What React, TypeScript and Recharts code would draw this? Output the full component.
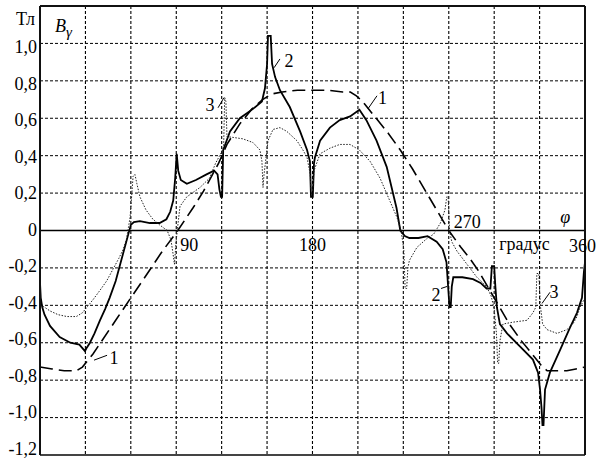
import React from "react";
import {
  LineChart,
  Line,
  XAxis,
  YAxis,
  CartesianGrid,
  ReferenceLine,
  ReferenceDot,
} from "recharts";

const xTicks = [0, 30, 60, 90, 120, 150, 180, 210, 240, 270, 300, 330, 360];
const yTicks = [-1.2, -1.0, -0.8, -0.6, -0.4, -0.2, 0, 0.2, 0.4, 0.6, 0.8, 1.0];

// curve 1 (dashed)
const curve1Deg = [0, 8, 16, 24, 28, 31, 35, 40, 50, 60, 72.6, 80, 91, 101, 108, 114, 118, 123.5, 132, 140, 147, 153, 160, 170, 180, 190, 200, 205, 209, 213, 218, 223, 230, 238, 246, 254, 262, 270, 278, 284, 290, 300, 310, 318, 325, 331, 335, 341, 348, 354, 360];
const curve1Val = [-0.73, -0.74, -0.75, -0.75, -0.73, -0.7, -0.66, -0.6, -0.48, -0.36, -0.21, -0.12, 0.0, 0.12, 0.21, 0.3, 0.36, 0.46, 0.57, 0.65, 0.7, 0.73, 0.74, 0.75, 0.75, 0.75, 0.74, 0.74, 0.72, 0.69, 0.64, 0.59, 0.52, 0.43, 0.33, 0.22, 0.11, 0.0, -0.09, -0.15, -0.22, -0.36, -0.5, -0.59, -0.66, -0.72, -0.75, -0.75, -0.75, -0.74, -0.73];

// curve 2 (solid)
const curve2Deg = [0, 0.5, 1.5, 3, 6.6, 13, 20, 26, 29.7, 31, 33, 36, 39.6, 43, 46, 50, 54, 58, 60, 62, 66, 72.6, 79, 83.5, 86, 88, 89.3, 90.3, 91.3, 93, 97, 103, 110, 115, 117.3, 118.5, 119.5, 120.3, 121, 125.5, 132, 140.7, 146.6, 148.6, 150, 150.6, 152.4, 153.3, 155.3, 158.5, 165, 171.8, 176.4, 178.3, 179, 180.2, 181, 181.6, 185, 191.5, 198, 204.8, 211, 215.6, 222.3, 229, 235.5, 238, 241, 244, 250, 256, 262, 266, 268.5, 270.5, 271.3, 272, 273, 279, 286, 291, 295, 297.5, 298.5, 300, 300.8, 301.8, 303.8, 308.5, 317, 325.6, 329, 330.3, 331.3, 331.9, 332.6, 333.6, 336.8, 343.5, 350, 354.7, 358, 359.3, 360];
const curve2Val = [-0.28, -0.36, -0.41, -0.45, -0.51, -0.57, -0.6, -0.61, -0.645, -0.625, -0.6, -0.55, -0.48, -0.42, -0.36, -0.27, -0.15, -0.03, 0.03, 0.045, 0.05, 0.04, 0.04, 0.06, 0.1, 0.16, 0.28, 0.41, 0.32, 0.27, 0.25, 0.27, 0.3, 0.32, 0.3, 0.22, 0.18, 0.18, 0.43, 0.53, 0.6, 0.65, 0.69, 0.76, 0.89, 1.04, 1.04, 0.89, 0.82, 0.75, 0.66, 0.53, 0.43, 0.37, 0.18, 0.18, 0.36, 0.39, 0.48, 0.55, 0.59, 0.61, 0.645, 0.59, 0.48, 0.34, 0.12, 0.0, -0.03, -0.04, -0.04, -0.03, -0.06, -0.1, -0.17, -0.41, -0.41, -0.3, -0.25, -0.25, -0.26, -0.28, -0.31, -0.31, -0.19, -0.19, -0.3, -0.41, -0.5, -0.55, -0.62, -0.69, -0.76, -0.85, -0.95, -1.04, -1.04, -0.85, -0.76, -0.64, -0.52, -0.44, -0.36, -0.22, -0.17];

// curve 3 (thin dotted)
const curve3Deg = [0, 3, 6.6, 12, 17.8, 24, 28, 31, 35, 39.6, 44, 48, 52, 55, 57, 58.5, 59.5, 60.5, 61.5, 62.7, 64, 66, 70, 74.6, 79, 84, 86.5, 87.8, 88.8, 90, 91.5, 92.5, 97, 105.7, 112, 116, 120, 121.3, 122, 122.8, 123.5, 125.5, 134, 140.7, 145.3, 146.6, 147.3, 148, 150.6, 153.9, 158.5, 163, 169.7, 173.7, 176.4, 178.5, 179, 180.2, 181, 185, 191.5, 198, 204.8, 211, 218, 224.6, 231, 235.8, 238.5, 240.3, 241.2, 242.2, 243, 244, 249, 256, 260, 264.5, 267.5, 268.7, 269.6, 270.5, 272, 275.4, 282, 288.6, 295, 298, 300, 301.5, 302.3, 303, 303.8, 305.8, 312.4, 321.7, 325.6, 327.5, 328.2, 329.5, 330.5, 332, 335, 341.5, 348, 352, 354.7, 356.7, 360];
const curve3Val = [-0.4, -0.41, -0.43, -0.45, -0.46, -0.46, -0.44, -0.41, -0.37, -0.32, -0.27, -0.21, -0.15, -0.1, -0.05, 0.02, 0.07, 0.18, 0.29, 0.3, 0.25, 0.18, 0.11, 0.06, 0.03, 0.0, -0.05, -0.12, -0.18, -0.05, 0.06, 0.13, 0.18, 0.23, 0.28, 0.36, 0.42, 0.45, 0.71, 0.69, 0.5, 0.5, 0.49, 0.47, 0.43, 0.37, 0.23, 0.3, 0.48, 0.54, 0.55, 0.53, 0.48, 0.43, 0.39, 0.3, 0.22, 0.22, 0.32, 0.41, 0.44, 0.46, 0.46, 0.43, 0.37, 0.28, 0.16, 0.07, 0.0, -0.1, -0.31, -0.31, -0.2, -0.16, -0.09, -0.04, -0.02, 0.04, 0.11, 0.18, 0.18, 0.0, -0.06, -0.11, -0.18, -0.25, -0.3, -0.35, -0.42, -0.55, -0.71, -0.71, -0.59, -0.5, -0.49, -0.48, -0.44, -0.41, -0.23, -0.23, -0.4, -0.5, -0.53, -0.55, -0.53, -0.5, -0.46, -0.41, -0.36];

const zip = (deg: number[], val: number[]) => deg.map((x, i) => ({ x, y: val[i] }));
const curve1 = zip(curve1Deg, curve1Val);
const curve2 = zip(curve2Deg, curve2Val);
const curve3 = zip(curve3Deg, curve3Val);

const FONT = '"Liberation Serif", "Times New Roman", serif';

// text placed next to a reference dot, offset in px
function note(text: React.ReactNode, dx: number, dy: number, anchor = "middle", italic = false) {
  return (props: any) => {
    const vb = props.viewBox;
    if (!vb) return null;
    const cx = vb.x + (vb.width || 0) / 2;
    const cy = vb.y + (vb.height || 0) / 2;
    return (
      <text
        x={cx + dx}
        y={cy + dy}
        textAnchor={anchor}
        fontFamily={FONT}
        fontSize={18}
        fontStyle={italic ? "italic" : "normal"}
        fill="#000"
      >
        {text}
      </text>
    );
  };
}

const fmt = (v: number) => (v === 0 ? "0" : v.toFixed(1).replace(".", ","));

// labels drift a little upward relative to the grid towards the bottom
function YTick(props: any) {
  const { x, y, payload } = props;
  const v = payload.value;
  const off = 10 - ((1.0 - v) / 2.2) * 10;
  return (
    <text x={x} y={y + off} textAnchor="end" fontFamily={FONT} fontSize={18} fill="#000">
      {fmt(v)}
    </text>
  );
}

const emptyTick = () => <g />;

export default function App() {
  const dotProps = { r: 1, fill: "none", stroke: "none" };
  const arrow = { stroke: "#000", strokeWidth: 1 };
  const frame = { stroke: "#111", strokeWidth: 2 };
  const inner = xTicks.slice(1, -1);
  return (
    <div style={{ position: "absolute", left: 0, top: 0, width: 598, height: 459, background: "#fff" }}>
      <LineChart width={598} height={459} margin={{ top: 0, right: 0, bottom: 0, left: 0 }}>
        <CartesianGrid stroke="#000" strokeDasharray="3 2" strokeWidth={1} vertical={false} />
        <XAxis
          dataKey="x"
          type="number"
          domain={[0, 360]}
          ticks={xTicks}
          interval={0}
          tick={emptyTick}
          tickLine={false}
          axisLine={{ stroke: "#444", strokeWidth: 2 }}
          height={4}
        />
        <XAxis
          xAxisId="top"
          orientation="top"
          type="number"
          domain={[0, 360]}
          ticks={xTicks}
          tick={false}
          tickLine={false}
          axisLine={frame}
          height={6}
        />
        <YAxis
          type="number"
          domain={[-1.2, 1.2]}
          ticks={yTicks}
          interval={0}
          width={40}
          axisLine={frame}
          tickLine={false}
          tickSize={0}
          tickMargin={3}
          tick={<YTick />}
        />
        <YAxis
          yAxisId="right"
          orientation="right"
          type="number"
          domain={[-1.2, 1.2]}
          ticks={yTicks}
          width={13}
          tick={false}
          tickLine={false}
          axisLine={frame}
        />

        {/* vertical grid every 30 degrees; a hair of slant keeps the stroke from vanishing */}
        {inner.map((d) => (
          <ReferenceLine
            key={d}
            segment={[{ x: d - 0.02, y: -1.195 }, { x: d + 0.02, y: 1.195 }]}
            stroke="#000"
            strokeWidth={1.1}
            strokeDasharray="3 2"
          />
        ))}
        <ReferenceLine y={0} stroke="#000" strokeWidth={1.3} />

        <Line data={curve1} dataKey="y" type="linear" stroke="#000" strokeWidth={1.6} strokeDasharray="13 6" dot={false} isAnimationActive={false} />
        <Line data={curve2} dataKey="y" type="linear" stroke="#000" strokeWidth={1.8} dot={false} isAnimationActive={false} />
        <Line data={curve3} dataKey="y" type="linear" stroke="#222" strokeWidth={1} strokeDasharray="1.5 1.5" dot={false} isAnimationActive={false} />

        {/* curve numbers with pointers */}
        <ReferenceLine segment={[{ x: 35.7, y: -0.693 }, { x: 44.3, y: -0.667 }]} {...arrow} />
        <ReferenceLine segment={[{ x: 216.6, y: 0.65 }, { x: 222.6, y: 0.72 }]} {...arrow} />
        <ReferenceLine segment={[{ x: 154.6, y: 0.87 }, { x: 158.5, y: 0.917 }]} {...arrow} />
        <ReferenceLine segment={[{ x: 117.6, y: 0.656 }, { x: 121.5, y: 0.71 }]} {...arrow} />
        <ReferenceLine segment={[{ x: 264.9, y: -0.31 }, { x: 268.9, y: -0.299 }]} {...arrow} />
        <ReferenceLine segment={[{ x: 331.6, y: -0.39 }, { x: 336.9, y: -0.33 }]} {...arrow} />

        <ReferenceDot x={48.9} y={-0.683} {...dotProps} label={note("1", 0, 6)} />
        <ReferenceDot x={226.2} y={0.71} {...dotProps} label={note("1", 0, 6)} />
        <ReferenceDot x={164.5} y={0.907} {...dotProps} label={note("2", 0, 6)} />
        <ReferenceDot x={112.3} y={0.672} {...dotProps} label={note("3", 0, 6)} />
        <ReferenceDot x={261.6} y={-0.347} {...dotProps} label={note("2", 0, 6)} />
        <ReferenceDot x={339.5} y={-0.33} {...dotProps} label={note("3", 0, 6)} />

        {/* axis texts */}
        <ReferenceDot x={90} y={0} {...dotProps} label={note("90", 4, 20, "start")} />
        <ReferenceDot x={180} y={0} {...dotProps} label={note("180", 0, 20)} />
        <ReferenceDot x={270} y={0} {...dotProps} label={note("270", 5, -3, "start")} />
        <ReferenceDot x={359} y={0} {...dotProps} label={note("360", -1, 21)} />
        <ReferenceDot x={320} y={0} {...dotProps} label={note("градус", 0, 19)} />
        <ReferenceDot x={347} y={0} {...dotProps} label={note("φ", 0, -8, "middle", true)} />
        <ReferenceDot x={1} y={1.19} {...dotProps} label={note("Тл", -6.5, 17, "end")} />
        <ReferenceDot
          x={1}
          y={1.19}
          {...dotProps}
          label={note(
            <>
              <tspan>B</tspan>
              <tspan dy={5} fontSize={15}>γ</tspan>
            </>,
            13.5,
            24,
            "start",
            true
          )}
        />
      </LineChart>
    </div>
  );
}
